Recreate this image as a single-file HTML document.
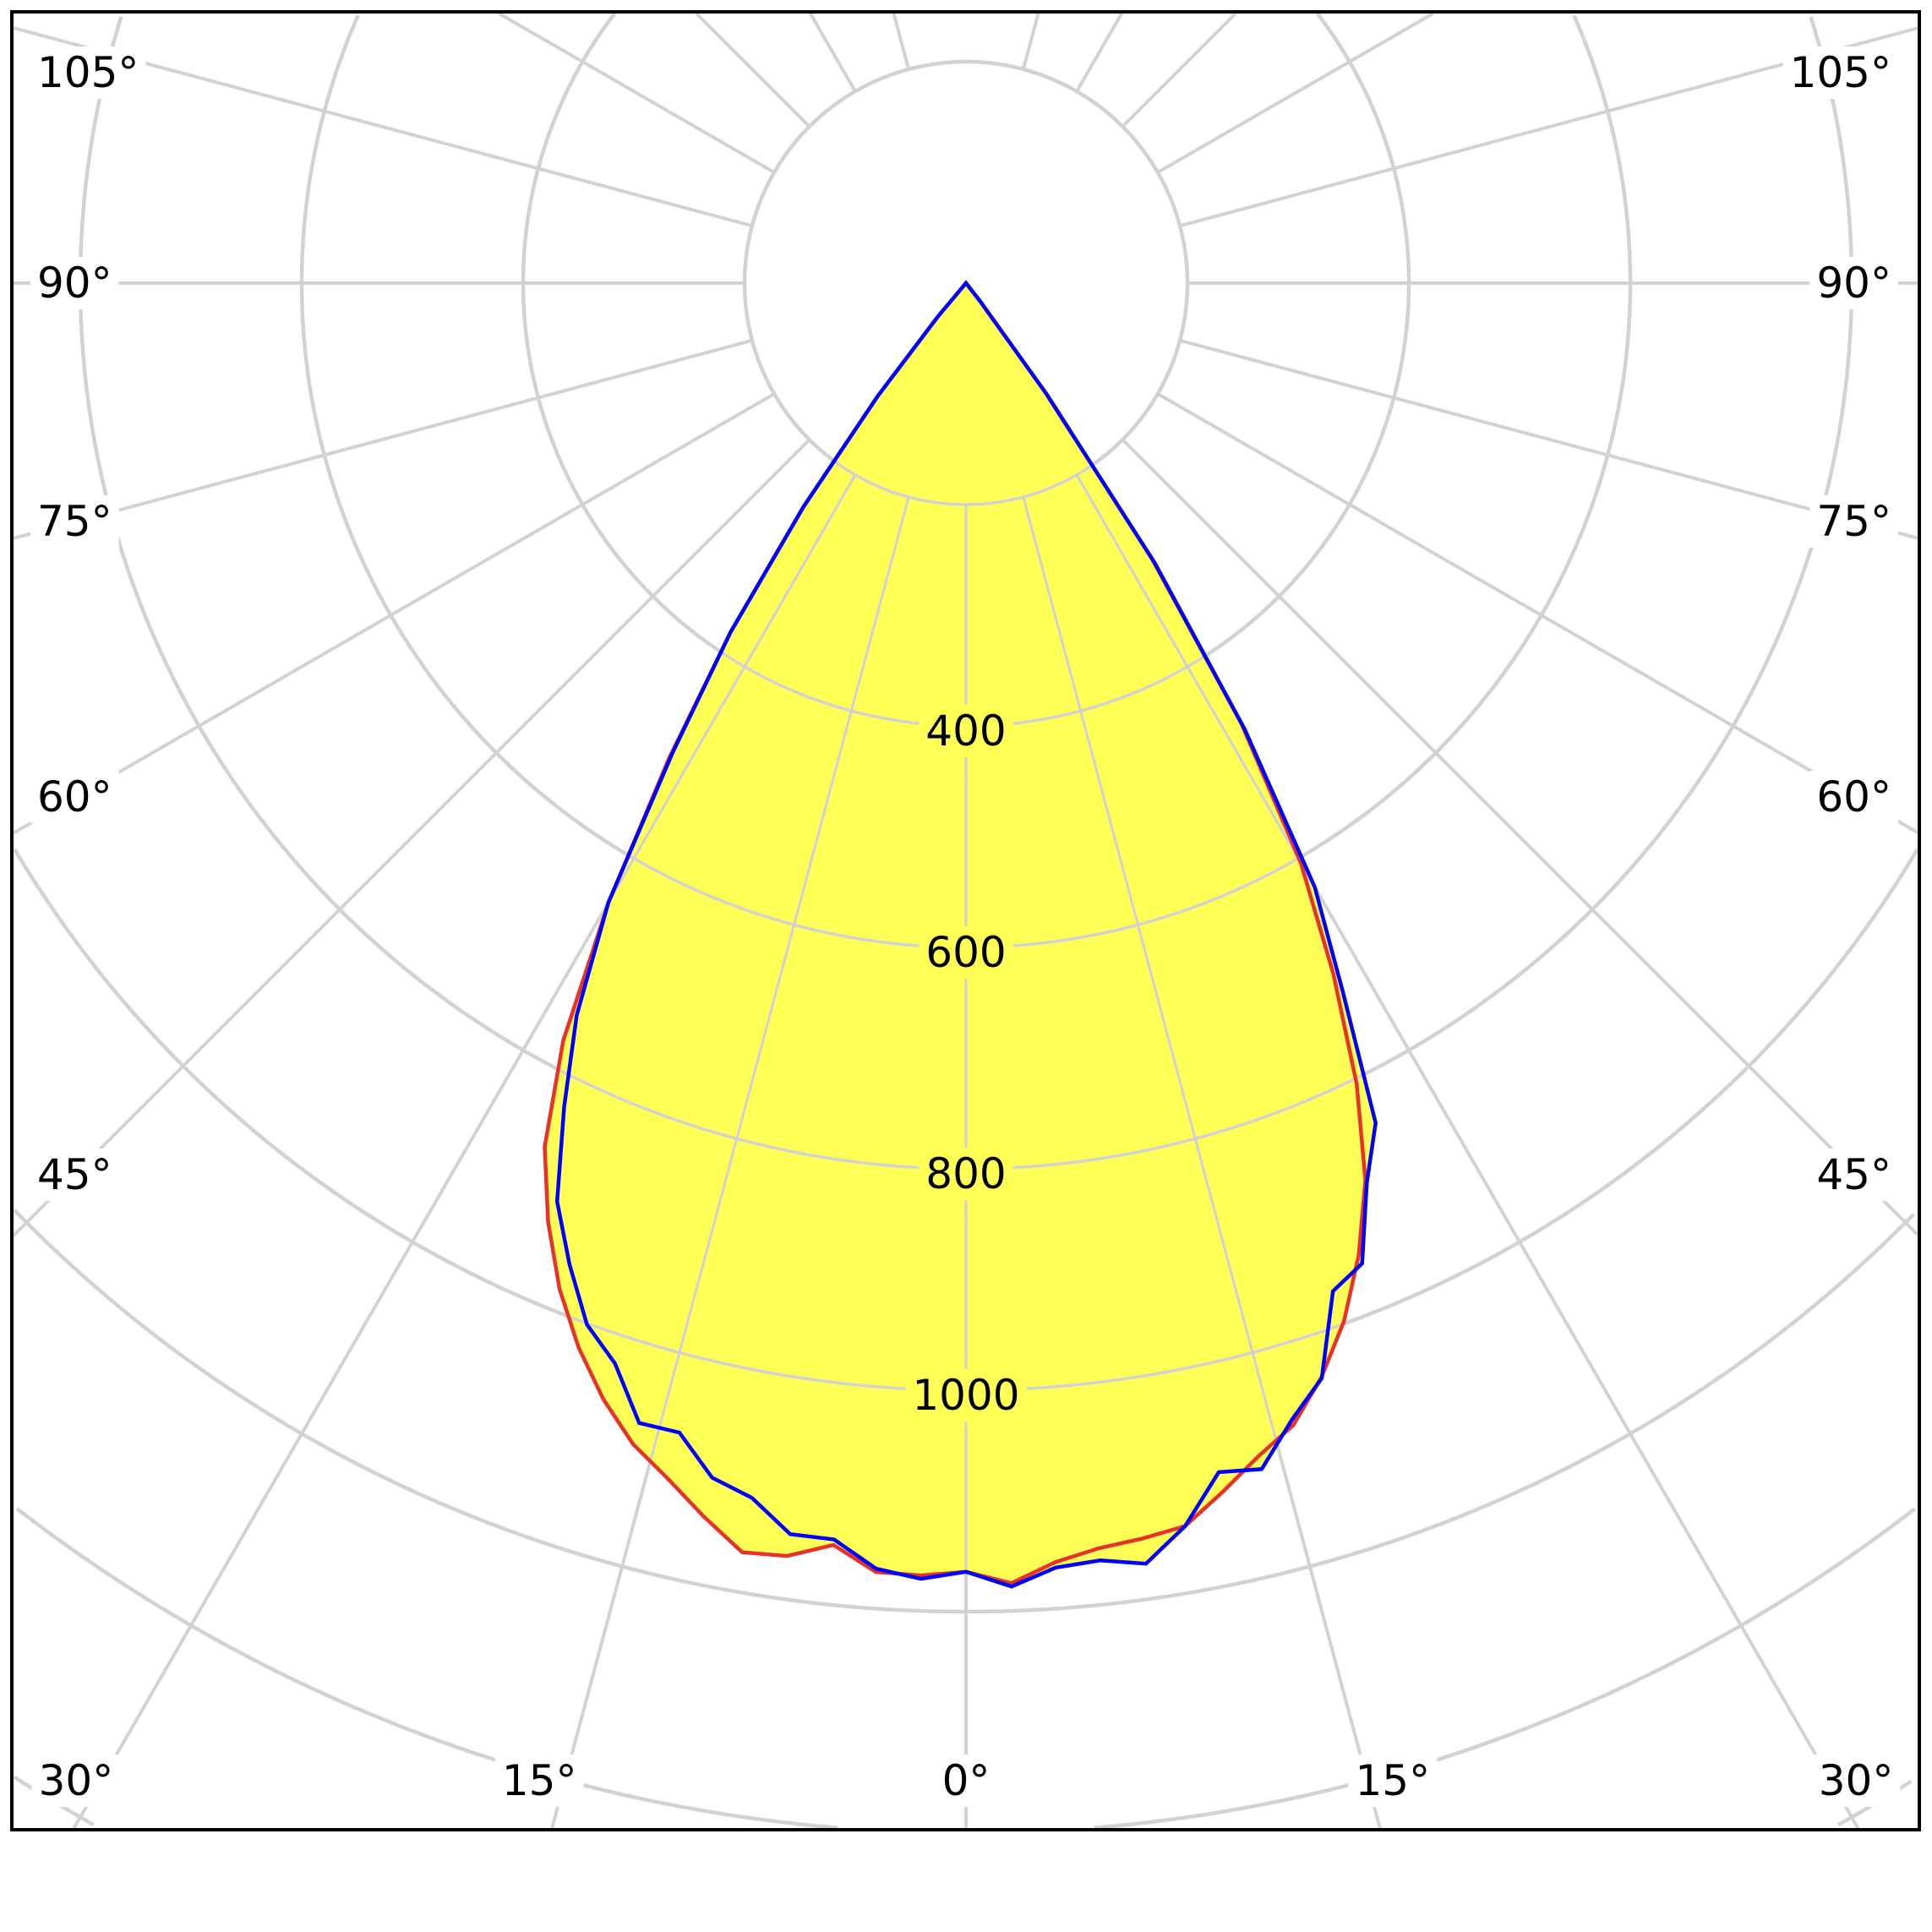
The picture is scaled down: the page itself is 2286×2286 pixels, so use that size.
<!DOCTYPE html>
<html><head><meta charset="utf-8"><style>
html,body{margin:0;padding:0;background:#fff;overflow:hidden;width:2286px;height:2286px;}
svg{display:block;}
text{font-family:"DejaVu Sans","Liberation Sans",sans-serif;}
</style></head><body>
<svg id="chart" width="2286" height="2286" viewBox="0 0 2286 2286" xmlns="http://www.w3.org/2000/svg">
<defs></defs>
<g id="grid"></g>
<g id="fills"></g>
<g id="grid2"></g>
<g id="curves"></g>
<g id="labels"></g>
<rect x="14" y="14" width="2257" height="2151" fill="none" stroke="#000" stroke-width="4"/>
</svg>
<script>
// data (candela values), angles in degrees from nadir
const angles = [0,2,4,6,8,10,12,14,16,18,20,22,24,26,28,30,32,34,36,38,40,42,44];
const redLeft   = [1164,1168,1167,1146,1161,1164,1139,1113,1091,1060,1023,980,928,868,775,645,506,380,250,130,40,0,0];
const redRight  = [1164,1175,1158,1149,1145,1140,1116,1092,1073,1039,998,947,887,805,707,605,470,300,120,20,0,0,0];
const blueLeft  = [1164,1171,1164,1141,1141,1114,1103,1070,1071,1026,1001,956,908,828,749,646,500,380,250,130,40,0,0];
const blueRight = [1164,1178,1163,1160,1168,1140,1098,1104,1068,1040,969,955,890,844,725,630,475,305,125,20,0,0,0];
const ringValues = [200,400,600,800,1000,1200,1400,1600,1800];
const ringLabels = ["400","600","800","1000"];
const spokeAngles = [0,15,30,45,60,75,90,105,120,135,150,165];
const sideLabels = ["105°","90°","75°","60°","45°"];
const sideLabelAngles = [105,90,75,60,45];
const bottomLabels = ["30°","15°","0°","15°","30°"];
const bottomLabelAngles = [-30,-15,0,15,30];

const NS="http://www.w3.org/2000/svg";
const CX=1143, CY=335, K=1.31;
const FX0=16, FY0=16, FX1=2269, FY1=2163;
function rScale(v){return v*K;}
function pt(deg,v,side){const a=deg*Math.PI/180;const r=rScale(v);return [CX+side*r*Math.sin(a), CY+r*Math.cos(a)];}
function mk(tag,attrs,parent){const e=document.createElementNS(NS,tag);for(const k in attrs)e.setAttribute(k,attrs[k]);parent.appendChild(e);return e;}
function inside(x,y){return x>=FX0&&x<=FX1&&y>=FY0&&y<=FY1;}
function ringPath(v){
  const r=rScale(v);let d='';let pen=false;
  for(let i=0;i<=1440;i++){
    const a=i/1440*2*Math.PI;const x=CX+r*Math.sin(a),y=CY+r*Math.cos(a);
    if(inside(x,y)){d+=(pen?'L':'M')+x.toFixed(1)+','+y.toFixed(1);pen=true;}else pen=false;
  }
  return d;
}
function spokeEnd(deg,side){
  const a=deg*Math.PI/180;const dx=side*Math.sin(a),dy=Math.cos(a);
  let t=1e9;
  if(dx>1e-9)t=Math.min(t,(FX1-CX)/dx);if(dx<-1e-9)t=Math.min(t,(FX0-CX)/dx);
  if(dy>1e-9)t=Math.min(t,(FY1-CY)/dy);if(dy<-1e-9)t=Math.min(t,(FY0-CY)/dy);
  return [CX+dx*t,CY+dy*t];
}

const grid=document.getElementById('grid');
const grid2=document.getElementById('grid2');
[grid,grid2].forEach((g,gi)=>{
  ringValues.forEach(v=>{
    const d=ringPath(v);if(!d)return;
    const c=mk('path',{d:d,fill:'none',stroke:'#d2d2d2','stroke-width':gi?3.5:4.5},g);
    
    
  });
  spokeAngles.forEach(a=>{
    [1,-1].forEach(s=>{
      if(a===0&&s===-1)return;
      const p1=pt(a,200,s),p2=spokeEnd(a,s);
      const l=mk('line',{x1:p1[0],y1:p1[1],x2:p2[0],y2:p2[1],stroke:gi?'#cfcfd8':'#d2d2d2','stroke-width':gi?3:4},g);
      
      
    });
  });
});

function curvePts(left,right){
  const pts=[];
  for(let i=angles.length-1;i>=0;i--)pts.push(pt(angles[i],left[i],-1));
  for(let i=1;i<angles.length;i++)pts.push(pt(angles[i],right[i],1));
  return pts.map(p=>p[0].toFixed(1)+','+p[1].toFixed(1)).join(' ');
}
const fills=document.getElementById('fills');
const f1=mk('polygon',{points:curvePts(redLeft,redRight),fill:'#ffff55',stroke:'none'},fills);


const f2=mk('polygon',{points:curvePts(blueLeft,blueRight),fill:'#ffff55',stroke:'none'},fills);



const clip=mk('clipPath',{id:'fillClip'},document.querySelector('defs'));
mk('polygon',{points:curvePts(redLeft,redRight)},clip);
mk('polygon',{points:curvePts(blueLeft,blueRight)},clip);
grid2.setAttribute('clip-path','url(#fillClip)');

const curves=document.getElementById('curves');
const c1=mk('polygon',{points:curvePts(redLeft,redRight),fill:'none',stroke:'#e8312a','stroke-width':4.5,'stroke-linejoin':'miter'},curves);


const c2=mk('polygon',{points:curvePts(blueLeft,blueRight),fill:'none',stroke:'#0000ff','stroke-width':4.5,'stroke-linejoin':'miter'},curves);



const labels=document.getElementById('labels');
function label(txt,x,y,anchor,bg,name){
  const t=mk('text',{x:x,y:y,'font-size':50,'text-anchor':anchor,'dominant-baseline':'central',fill:'#000'},labels);
  t.textContent=txt;
  
  
  const b=t.getBBox();
  const r=document.createElementNS(NS,'rect');
  r.setAttribute('x',b.x-8);r.setAttribute('y',b.y-2);r.setAttribute('width',b.width+16);r.setAttribute('height',b.height+4);
  r.setAttribute('fill',bg);
  
  
  labels.insertBefore(r,t);
}
ringLabels.forEach((s,i)=>{
  label(s,CX,CY+rScale(400+200*i)+6,'middle','#ffff55','ring-label');
});
const sideY=[86,335,617,943,1390];
sideLabelAngles.forEach((a,i)=>{
  label(sideLabels[i],44,sideY[i],'start','#fff','angle-label-left');
  label(sideLabels[i],2238,sideY[i],'end','#fff','angle-label-right');
});
bottomLabelAngles.forEach((a,i)=>{
  const y=2107;
  const x=CX+Math.tan(Math.abs(a)*Math.PI/180)*(y-CY)*Math.sign(a)+ (a===0?0:Math.sign(a)*30);
  label(bottomLabels[i],x,y,'middle','#fff','angle-label-bottom');
});
</script>
</body></html>
